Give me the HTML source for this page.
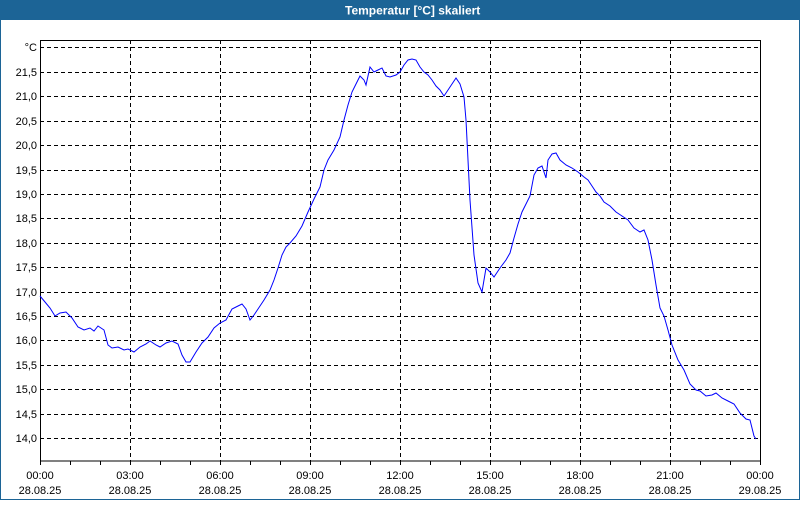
<!DOCTYPE html>
<html><head><meta charset="utf-8"><style>
body{margin:0;width:800px;height:500px;overflow:hidden;background:#fff;font-family:"Liberation Sans",sans-serif}
</style></head><body>
<svg width="800" height="500" xmlns="http://www.w3.org/2000/svg" font-family="Liberation Sans, sans-serif" font-size="11">
<rect x="0" y="0" width="800" height="500" fill="#fff"/>
<rect x="0.5" y="0.5" width="799" height="499" fill="none" stroke="#1c6496" stroke-width="1"/>
<rect x="0" y="0" width="800" height="20" fill="#1c6496"/>
<text x="345" y="14.5" fill="#fff" font-weight="bold" font-size="12">Temperatur [°C] skaliert</text>
<g stroke="#000" stroke-dasharray="4,3" stroke-width="1">
<line x1="40" x2="760" y1="47.5" y2="47.5"/><line x1="40" x2="760" y1="72.5" y2="72.5"/><line x1="40" x2="760" y1="96.5" y2="96.5"/><line x1="40" x2="760" y1="121.5" y2="121.5"/><line x1="40" x2="760" y1="145.5" y2="145.5"/><line x1="40" x2="760" y1="170.5" y2="170.5"/><line x1="40" x2="760" y1="194.5" y2="194.5"/><line x1="40" x2="760" y1="218.5" y2="218.5"/><line x1="40" x2="760" y1="243.5" y2="243.5"/><line x1="40" x2="760" y1="267.5" y2="267.5"/><line x1="40" x2="760" y1="292.5" y2="292.5"/><line x1="40" x2="760" y1="316.5" y2="316.5"/><line x1="40" x2="760" y1="340.5" y2="340.5"/><line x1="40" x2="760" y1="365.5" y2="365.5"/><line x1="40" x2="760" y1="389.5" y2="389.5"/><line x1="40" x2="760" y1="414.5" y2="414.5"/><line x1="40" x2="760" y1="438.5" y2="438.5"/>
<line y1="40" y2="461" x1="130.5" x2="130.5"/><line y1="40" y2="461" x1="220.5" x2="220.5"/><line y1="40" y2="461" x1="310.5" x2="310.5"/><line y1="40" y2="461" x1="400.5" x2="400.5"/><line y1="40" y2="461" x1="490.5" x2="490.5"/><line y1="40" y2="461" x1="580.5" x2="580.5"/><line y1="40" y2="461" x1="670.5" x2="670.5"/>
</g>
<rect x="40.5" y="40.5" width="720" height="420.5" fill="none" stroke="#000"/>
<g stroke="#000">
<path d="M40.5 461v4M70.5 461v4M100.5 461v4M130.5 461v4M160.5 461v4M190.5 461v4M220.5 461v4M250.5 461v4M280.5 461v4M310.5 461v4M340.5 461v4M370.5 461v4M400.5 461v4M430.5 461v4M460.5 461v4M490.5 461v4M520.5 461v4M550.5 461v4M580.5 461v4M610.5 461v4M640.5 461v4M670.5 461v4M700.5 461v4M730.5 461v4M760.5 461v4"/>
</g>
<g text-anchor="end" fill="#000">
<text x="37" y="51">°C</text><text x="37" y="76">21,5</text><text x="37" y="100">21,0</text><text x="37" y="125">20,5</text><text x="37" y="149">20,0</text><text x="37" y="174">19,5</text><text x="37" y="198">19,0</text><text x="37" y="222">18,5</text><text x="37" y="247">18,0</text><text x="37" y="271">17,5</text><text x="37" y="296">17,0</text><text x="37" y="320">16,5</text><text x="37" y="344">16,0</text><text x="37" y="369">15,5</text><text x="37" y="393">15,0</text><text x="37" y="418">14,5</text><text x="37" y="442">14,0</text>
</g>
<g text-anchor="middle" fill="#000">
<text x="40" y="479">00:00</text><text x="40" y="494">28.08.25</text>
<text x="130" y="479">03:00</text><text x="130" y="494">28.08.25</text>
<text x="220" y="479">06:00</text><text x="220" y="494">28.08.25</text>
<text x="310" y="479">09:00</text><text x="310" y="494">28.08.25</text>
<text x="400" y="479">12:00</text><text x="400" y="494">28.08.25</text>
<text x="490" y="479">15:00</text><text x="490" y="494">28.08.25</text>
<text x="580" y="479">18:00</text><text x="580" y="494">28.08.25</text>
<text x="670" y="479">21:00</text><text x="670" y="494">28.08.25</text>
<text x="760" y="479">00:00</text><text x="760" y="494">29.08.25</text>
</g>
<polyline fill="none" stroke="#0000ff" stroke-width="1" points="40,296 45,302 50,308 55,316 60,313 66,312 72,318 78,327 84,330 90,328 94,331 98,326 104,330 108,345 112,348 118,347 124,350 128,349 134,352 140,347 146,344 150,341 156,345 160,347 166,343 172,341 178,344 182,355 186,362 190,362 196,352 202,343 208,337 214,328 220,323 226,320 232,309 238,306 242,304 246,309 250,320 254,315 258,309 264,300 270,290 274,280 278,268 282,255 286,247 290,243 296,236 302,226 308,212 314,199 320,187 324,170 328,160 334,150 340,137 344,120 348,105 352,92 356,84 360,76 364,80 366,85 370,67 374,72 378,70 382,68 386,76 390,77 396,75 400,72 404,65 408,60 412,59 416,60 420,67 424,72 428,75 432,80 436,86 440,90 444,96 448,90 452,84 456,78 460,84 464,97 466,120 470,200 474,255 478,283 482,292 486,268 490,272 494,277 500,268 506,260 510,253 514,238 518,224 522,212 526,204 530,196 534,175 538,168 542,166 546,178 548,160 552,154 556,153 560,160 566,165 572,168 578,172 584,177 588,180 592,186 596,192 600,196 604,202 610,206 616,212 622,216 628,220 634,228 640,232 644,230 648,240 652,260 656,285 660,308 664,316 668,330 672,345 678,360 684,370 690,384 696,390 700,391 706,396 712,395 716,393 722,398 728,401 734,404 740,413 746,419 750,420 754,436 756,439"/>
</svg>
</body></html>
